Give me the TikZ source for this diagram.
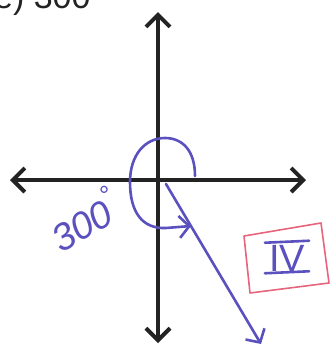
\documentclass[tikz,border=0pt]{standalone}
\usepackage{fontspec}
\setmainfont{Liberation Sans}
\usetikzlibrary{arrows.meta,calc}
\definecolor{ink}{RGB}{90,80,190}
\definecolor{axis}{RGB}{35,35,35}
\definecolor{boxred}{RGB}{232,100,125}
\begin{document}
\begin{tikzpicture}[x=1pt,y=-1pt,
  axisline/.style={draw=axis,line width=4pt,-{Straight Barb[length=12pt,width=24pt,line width=4pt]}},
  inkline/.style={draw=ink,line width=2.6pt,line cap=round,line join=round},
  inktip/.style={-{Straight Barb[length=10pt,width=22pt,line width=2.6pt]}},
  handtext/.style={text=ink,font=\itshape\fontsize{38}{38}\selectfont,inner sep=0pt}]
\useasboundingbox (0,0) rectangle (336,354);
\begin{scope}
\clip (0,0) rectangle (336,354);
% cut-off title
\node[anchor=base west,inner sep=0pt,font=\fontsize{34}{34}\selectfont,text=axis] (title) at (-6,8) {e) 300};
\end{scope}
% axes
\coordinate (O) at (158,180);
\coordinate (top) at (158,12);
\coordinate (bot) at (158,343);
\coordinate (lef) at (10,180);
\coordinate (rig) at (306,180);
\draw[axisline] (O) -- (top);
\draw[axisline] (O) -- (bot);
\draw[axisline] (O) -- (lef);
\draw[axisline] (O) -- (rig);
% rotation arc
\coordinate (arcS) at (195,176);
\coordinate (arcE) at (191,226);
\draw[inkline,inktip] (arcS) .. controls (195,150) and (182,138) .. (165,138)
   .. controls (145,138) and (130,155) .. (130,182)
   .. controls (130,212) and (142,229) .. (166,228) -- (arcE);
% terminal side
\coordinate (tS) at (166,184);
\coordinate (tE) at (261,344);
\draw[inkline,inktip] (tS) -- (tE);
% angle label
\node[handtext,rotate=30] (lbl) at (84,219) {300\raisebox{0.5em}{\fontsize{26}{26}\selectfont°}};
% quadrant box
\draw[draw=boxred,line width=1.6pt,line join=round] (244,236) -- (321,223) -- (329,283) -- (250,293) -- cycle;
\node[text=ink,font=\fontsize{38}{38}\selectfont,inner sep=0pt] (iv) at (287,258) {IV};
\draw[inkline] ($(iv.north west)+(-4,-2)$) -- ($(iv.north east)+(4,-4)$);
\draw[inkline] ($(iv.south west)+(-4,2)$) -- ($(iv.south east)+(4,0)$);
\end{tikzpicture}
\end{document}
